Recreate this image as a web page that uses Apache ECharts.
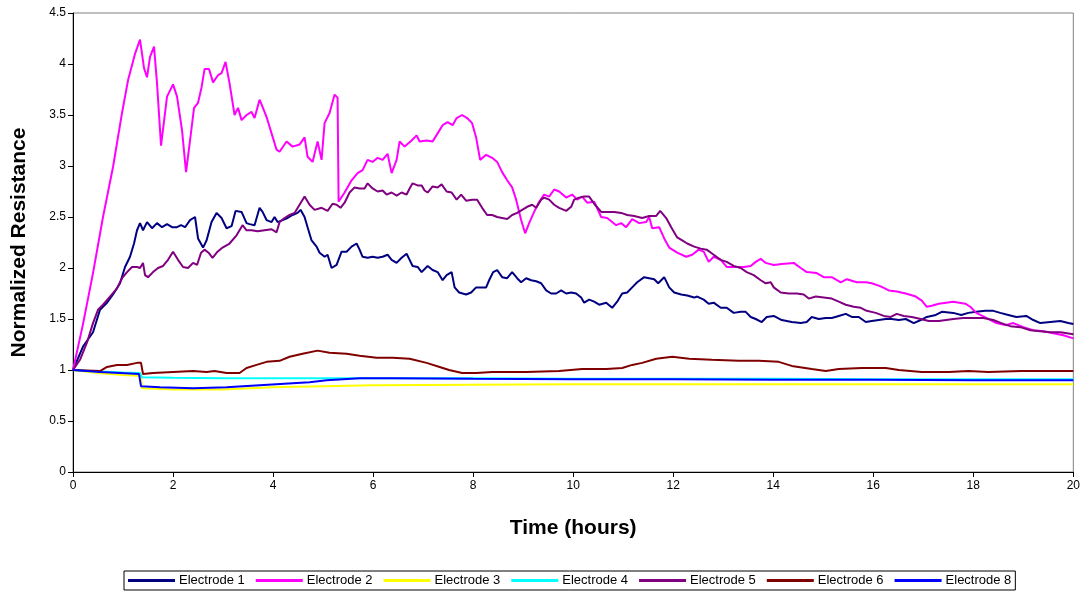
<!DOCTYPE html>
<html>
<head>
<meta charset="utf-8">
<script src="https://cdn.jsdelivr.net/npm/echarts@6/dist/echarts.min.js"></script>
<style>
html,body{margin:0;padding:0;background:#fff;}
#chart{width:1083px;height:593px;}
</style>
</head>
<body>
<div id="chart"></div>
<script>
// ---- Data (time in hours, normalized resistance) ----
const seriesNames = ["Electrode 1","Electrode 2","Electrode 3","Electrode 4","Electrode 5","Electrode 6","Electrode 8"];
const seriesColors = ["#000080","#FF00FF","#FFFF00","#00FFFF","#800080","#800000","#0000FF"];

const electrode1 = [[0,1],[0.2,1.23],[0.4,1.37],[0.54,1.59],[0.68,1.66],[0.8,1.74],[0.94,1.85],[1.04,2.01],[1.14,2.11],[1.22,2.24],[1.28,2.37],[1.34,2.44],[1.4,2.37],[1.48,2.45],[1.58,2.39],[1.68,2.44],[1.78,2.4],[1.88,2.43],[1.98,2.4],[2.08,2.4],[2.16,2.42],[2.24,2.4],[2.34,2.47],[2.44,2.5],[2.5,2.29],[2.6,2.2],[2.67,2.27],[2.77,2.45],[2.87,2.54],[2.97,2.49],[3.07,2.39],[3.17,2.41],[3.25,2.56],[3.37,2.55],[3.47,2.44],[3.53,2.43],[3.63,2.42],[3.73,2.59],[3.79,2.55],[3.87,2.47],[3.97,2.45],[4.03,2.5],[4.09,2.45],[4.19,2.47],[4.29,2.49],[4.39,2.52],[4.49,2.54],[4.55,2.57],[4.63,2.5],[4.69,2.4],[4.77,2.27],[4.87,2.21],[4.93,2.15],[5.03,2.11],[5.09,2.13],[5.17,2.0],[5.27,2.03],[5.37,2.16],[5.47,2.16],[5.57,2.21],[5.67,2.24],[5.73,2.18],[5.79,2.11],[5.89,2.1],[5.99,2.11],[6.09,2.1],[6.19,2.11],[6.29,2.13],[6.37,2.08],[6.47,2.05],[6.57,2.1],[6.67,2.14],[6.73,2.08],[6.79,2.02],[6.89,2.01],[6.97,1.96],[7.09,2.02],[7.19,1.98],[7.29,1.96],[7.39,1.88],[7.47,1.93],[7.57,1.96],[7.63,1.81],[7.72,1.76],[7.86,1.74],[7.96,1.76],[8.06,1.81],[8.16,1.81],[8.26,1.81],[8.32,1.88],[8.4,1.96],[8.48,1.98],[8.58,1.91],[8.68,1.9],[8.78,1.96],[8.88,1.9],[8.96,1.86],[9.06,1.9],[9.16,1.88],[9.26,1.87],[9.36,1.85],[9.46,1.78],[9.56,1.75],[9.66,1.75],[9.76,1.78],[9.86,1.75],[9.96,1.76],[10.06,1.75],[10.16,1.71],[10.22,1.66],[10.32,1.69],[10.42,1.67],[10.52,1.64],[10.66,1.66],[10.78,1.61],[10.88,1.67],[10.98,1.75],[11.08,1.76],[11.18,1.81],[11.28,1.86],[11.42,1.91],[11.52,1.9],[11.62,1.89],[11.7,1.85],[11.82,1.91],[11.92,1.81],[12.02,1.76],[12.16,1.74],[12.28,1.73],[12.42,1.71],[12.48,1.72],[12.61,1.69],[12.71,1.65],[12.81,1.66],[12.95,1.61],[13.07,1.61],[13.21,1.56],[13.35,1.57],[13.45,1.57],[13.55,1.52],[13.65,1.5],[13.77,1.47],[13.87,1.52],[14.01,1.53],[14.17,1.49],[14.37,1.47],[14.55,1.46],[14.67,1.47],[14.77,1.52],[14.91,1.5],[15.05,1.51],[15.17,1.51],[15.31,1.53],[15.45,1.55],[15.57,1.52],[15.71,1.52],[15.85,1.47],[15.97,1.48],[16.11,1.49],[16.25,1.5],[16.37,1.5],[16.51,1.49],[16.65,1.5],[16.81,1.46],[16.95,1.49],[17.07,1.52],[17.25,1.54],[17.37,1.57],[17.6,1.56],[17.76,1.54],[17.9,1.56],[18.06,1.57],[18.24,1.58],[18.4,1.58],[18.54,1.56],[18.7,1.54],[18.86,1.52],[19.06,1.53],[19.2,1.49],[19.34,1.46],[19.54,1.47],[19.74,1.48],[19.9,1.46],[20,1.45]];

const electrode2 = [[0,1],[0.2,1.45],[0.4,1.95],[0.6,2.5],[0.8,2.99],[0.98,3.52],[1.1,3.84],[1.24,4.1],[1.34,4.24],[1.42,3.96],[1.48,3.87],[1.54,4.07],[1.62,4.17],[1.68,3.81],[1.76,3.2],[1.88,3.68],[2.0,3.8],[2.08,3.68],[2.18,3.35],[2.26,2.94],[2.34,3.25],[2.42,3.57],[2.5,3.62],[2.57,3.77],[2.63,3.95],[2.72,3.95],[2.8,3.82],[2.9,3.89],[2.97,3.91],[3.05,4.02],[3.13,3.81],[3.23,3.5],[3.3,3.57],[3.37,3.45],[3.47,3.5],[3.57,3.53],[3.63,3.47],[3.73,3.65],[3.79,3.58],[3.87,3.48],[3.97,3.32],[4.07,3.16],[4.13,3.14],[4.27,3.24],[4.39,3.19],[4.53,3.21],[4.63,3.28],[4.69,3.09],[4.79,3.04],[4.89,3.24],[4.97,3.06],[5.03,3.42],[5.13,3.52],[5.23,3.7],[5.29,3.67],[5.31,2.65],[5.43,2.74],[5.57,2.86],[5.69,2.93],[5.79,2.96],[5.89,3.06],[5.99,3.04],[6.09,3.08],[6.19,3.06],[6.29,3.12],[6.37,2.93],[6.47,3.06],[6.53,3.24],[6.63,3.19],[6.77,3.25],[6.87,3.3],[6.93,3.24],[7.07,3.25],[7.19,3.24],[7.29,3.32],[7.39,3.4],[7.49,3.43],[7.59,3.4],[7.67,3.47],[7.78,3.5],[7.88,3.47],[7.98,3.42],[8.06,3.28],[8.14,3.06],[8.26,3.11],[8.38,3.08],[8.48,3.04],[8.58,2.94],[8.68,2.86],[8.78,2.79],[8.86,2.67],[8.96,2.47],[9.04,2.34],[9.12,2.44],[9.22,2.55],[9.32,2.65],[9.42,2.72],[9.52,2.7],[9.62,2.77],[9.72,2.75],[9.86,2.69],[9.98,2.72],[10.08,2.67],[10.18,2.7],[10.28,2.64],[10.42,2.65],[10.56,2.5],[10.68,2.49],[10.86,2.42],[10.96,2.44],[11.06,2.4],[11.18,2.48],[11.32,2.44],[11.46,2.45],[11.52,2.5],[11.58,2.39],[11.72,2.4],[11.82,2.29],[11.92,2.2],[12.08,2.15],[12.26,2.11],[12.38,2.13],[12.51,2.18],[12.61,2.16],[12.71,2.06],[12.81,2.11],[12.95,2.08],[13.07,2.01],[13.21,2.01],[13.41,2.01],[13.55,2.02],[13.65,2.06],[13.75,2.09],[13.85,2.05],[14.01,2.03],[14.17,2.04],[14.41,2.05],[14.55,2.0],[14.67,1.96],[14.87,1.95],[15.01,1.91],[15.17,1.91],[15.35,1.86],[15.47,1.89],[15.67,1.86],[15.85,1.86],[15.97,1.85],[16.15,1.82],[16.31,1.78],[16.47,1.77],[16.65,1.75],[16.85,1.72],[16.97,1.68],[17.07,1.62],[17.17,1.63],[17.31,1.65],[17.6,1.67],[17.84,1.65],[17.94,1.62],[18.06,1.56],[18.26,1.51],[18.46,1.46],[18.64,1.44],[18.8,1.46],[19.0,1.42],[19.2,1.39],[19.4,1.38],[19.6,1.36],[19.8,1.34],[20,1.31]];

const electrode3 = [[0,1],[0.5,0.97],[1.0,0.95],[1.36,0.94],[1.38,0.82],[2,0.81],[3,0.81],[4,0.83],[5,0.84],[6,0.85],[8,0.855],[10,0.86],[12,0.86],[14,0.86],[16,0.86],[18,0.86],[20,0.86]];

const electrode4 = [[0,1],[0.5,0.985],[1.0,0.975],[1.34,0.97],[1.38,0.93],[2,0.925],[3,0.92],[4,0.92],[5,0.92],[6,0.92],[8,0.92],[10,0.915],[12,0.915],[14,0.915],[16,0.91],[18,0.91],[20,0.91]];

const electrode5 = [[0,1],[0.14,1.1],[0.28,1.27],[0.4,1.46],[0.5,1.59],[0.6,1.64],[0.74,1.72],[0.88,1.8],[0.98,1.9],[1.08,1.96],[1.18,2.01],[1.28,2.01],[1.34,2.0],[1.4,2.05],[1.44,1.93],[1.5,1.91],[1.6,1.96],[1.7,2.0],[1.8,2.02],[1.9,2.08],[2.0,2.16],[2.1,2.08],[2.2,2.01],[2.3,2.0],[2.4,2.05],[2.48,2.03],[2.56,2.15],[2.63,2.18],[2.71,2.15],[2.79,2.1],[2.89,2.16],[2.99,2.2],[3.13,2.24],[3.27,2.32],[3.39,2.42],[3.47,2.37],[3.57,2.37],[3.69,2.36],[3.83,2.37],[3.97,2.38],[4.07,2.35],[4.13,2.45],[4.23,2.49],[4.33,2.52],[4.43,2.54],[4.53,2.62],[4.63,2.7],[4.73,2.62],[4.83,2.57],[4.97,2.59],[5.09,2.56],[5.19,2.63],[5.27,2.62],[5.35,2.59],[5.43,2.64],[5.53,2.74],[5.63,2.79],[5.73,2.78],[5.83,2.78],[5.89,2.83],[5.99,2.78],[6.09,2.75],[6.19,2.76],[6.27,2.72],[6.37,2.74],[6.47,2.71],[6.57,2.74],[6.67,2.72],[6.73,2.78],[6.79,2.83],[6.89,2.81],[6.97,2.81],[7.03,2.76],[7.09,2.74],[7.19,2.8],[7.29,2.79],[7.37,2.82],[7.47,2.75],[7.57,2.74],[7.67,2.67],[7.76,2.72],[7.86,2.66],[7.98,2.67],[8.08,2.67],[8.18,2.59],[8.28,2.52],[8.38,2.52],[8.48,2.5],[8.58,2.49],[8.68,2.48],[8.78,2.52],[8.88,2.54],[8.98,2.57],[9.08,2.6],[9.18,2.62],[9.26,2.59],[9.36,2.67],[9.42,2.69],[9.52,2.67],[9.62,2.62],[9.72,2.59],[9.86,2.56],[9.96,2.6],[10.02,2.67],[10.12,2.69],[10.22,2.7],[10.32,2.7],[10.42,2.63],[10.56,2.55],[10.68,2.55],[10.82,2.55],[10.96,2.54],[11.08,2.52],[11.22,2.51],[11.38,2.49],[11.52,2.51],[11.66,2.51],[11.74,2.56],[11.86,2.49],[11.96,2.4],[12.08,2.3],[12.18,2.27],[12.28,2.24],[12.42,2.21],[12.55,2.19],[12.67,2.18],[12.81,2.13],[12.95,2.08],[13.07,2.06],[13.21,2.02],[13.35,2.0],[13.47,1.96],[13.61,1.93],[13.75,1.88],[13.85,1.85],[13.95,1.86],[14.01,1.81],[14.15,1.76],[14.31,1.75],[14.47,1.75],[14.61,1.74],[14.71,1.7],[14.85,1.72],[15.01,1.71],[15.17,1.7],[15.31,1.67],[15.45,1.64],[15.61,1.62],[15.75,1.61],[15.87,1.58],[16.05,1.56],[16.21,1.53],[16.35,1.52],[16.47,1.55],[16.61,1.53],[16.77,1.52],[16.95,1.5],[17.11,1.48],[17.31,1.48],[17.6,1.5],[17.8,1.51],[18.0,1.51],[18.2,1.51],[18.4,1.49],[18.56,1.46],[18.74,1.43],[18.94,1.42],[19.14,1.39],[19.34,1.38],[19.54,1.37],[19.74,1.37],[20,1.35]];

const electrode6 = [[0,1],[0.54,0.99],[0.68,1.03],[0.88,1.05],[1.08,1.05],[1.28,1.07],[1.36,1.07],[1.4,0.96],[1.6,0.97],[2.0,0.98],[2.4,0.99],[2.67,0.98],[2.83,0.99],[3.07,0.97],[3.33,0.97],[3.47,1.02],[3.67,1.05],[3.87,1.08],[4.13,1.09],[4.33,1.13],[4.59,1.16],[4.89,1.19],[5.13,1.17],[5.47,1.16],[5.73,1.14],[6.07,1.12],[6.39,1.12],[6.73,1.11],[7.07,1.07],[7.33,1.03],[7.52,1.0],[7.78,0.97],[8.06,0.97],[8.38,0.98],[9.06,0.98],[9.72,0.99],[10.18,1.01],[10.66,1.01],[10.98,1.02],[11.18,1.05],[11.38,1.07],[11.66,1.11],[11.98,1.13],[12.32,1.11],[12.77,1.1],[13.31,1.09],[13.71,1.09],[14.11,1.08],[14.37,1.04],[14.77,1.01],[15.05,0.99],[15.31,1.01],[15.77,1.02],[16.25,1.02],[16.51,1.0],[16.97,0.98],[17.51,0.98],[17.9,0.99],[18.3,0.98],[18.96,0.99],[20,0.99]];

const electrode8 = [[0,1],[0.54,0.98],[0.94,0.97],[1.32,0.96],[1.36,0.84],[1.74,0.83],[2.4,0.82],[3.07,0.83],[3.73,0.85],[4.39,0.87],[4.73,0.88],[5.07,0.9],[5.73,0.92],[6.39,0.92],[8,0.915],[10,0.91],[12,0.91],[14,0.905],[16,0.905],[18,0.9],[20,0.9]];

const allData = [electrode1, electrode2, electrode3, electrode4, electrode5, electrode6, electrode8];

const xAxisTitle = "Time (hours)";
const yAxisTitle = "Normalized Resistance";

const FONT = "'Liberation Sans', Arial, sans-serif";

const chart = echarts.init(document.getElementById('chart'), null, {renderer: 'canvas'});
chart.setOption({
  animation: false,
  backgroundColor: '#ffffff',
  textStyle: {fontFamily: FONT},
  grid: {
    left: 73, right: 7, top: 13, bottom: 121,
    show: true, borderColor: '#808080', borderWidth: 1, backgroundColor: 'transparent'
  },
  xAxis: {
    type: 'value', min: 0, max: 20, interval: 2,
    name: xAxisTitle, nameLocation: 'middle', nameGap: 46,
    nameTextStyle: {fontFamily: FONT, fontSize: 21, fontWeight: 'bold', color: '#000'},
    axisLine: {show: true, onZero: false, lineStyle: {color: '#000', width: 1}},
    axisTick: {show: true, inside: false, length: 5, lineStyle: {color: '#000'}},
    axisLabel: {fontFamily: FONT, fontSize: 12, color: '#000', margin: 8},
    splitLine: {show: false}
  },
  yAxis: {
    type: 'value', min: 0, max: 4.5, interval: 0.5,
    name: yAxisTitle, nameLocation: 'middle', nameGap: 43,
    nameTextStyle: {fontFamily: FONT, fontSize: 21, fontWeight: 'bold', color: '#000'},
    axisLine: {show: true, lineStyle: {color: '#000', width: 1}},
    axisTick: {show: true, inside: false, length: 5, lineStyle: {color: '#000'}},
    axisLabel: {fontFamily: FONT, fontSize: 12, color: '#000', margin: 7},
    splitLine: {show: false}
  },
  legend: {
    left: 124, top: 571,
    orient: 'horizontal',
    icon: 'rect', itemWidth: 47, itemHeight: 3, itemGap: 11,
    padding: [3, 4, 3, 4],
    borderColor: '#000', borderWidth: 1,
    textStyle: {fontFamily: FONT, fontSize: 13, color: '#000', padding: [0,0,0,-1]},
    data: seriesNames
  },
  series: seriesNames.map((n, i) => ({
    name: n,
    type: 'line',
    data: allData[i],
    showSymbol: false,
    symbol: 'none',
    smooth: false,
    lineStyle: {color: seriesColors[i], width: 2},
    itemStyle: {color: seriesColors[i]},
    z: 2 + i
  }))
});
</script>
</body>
</html>
